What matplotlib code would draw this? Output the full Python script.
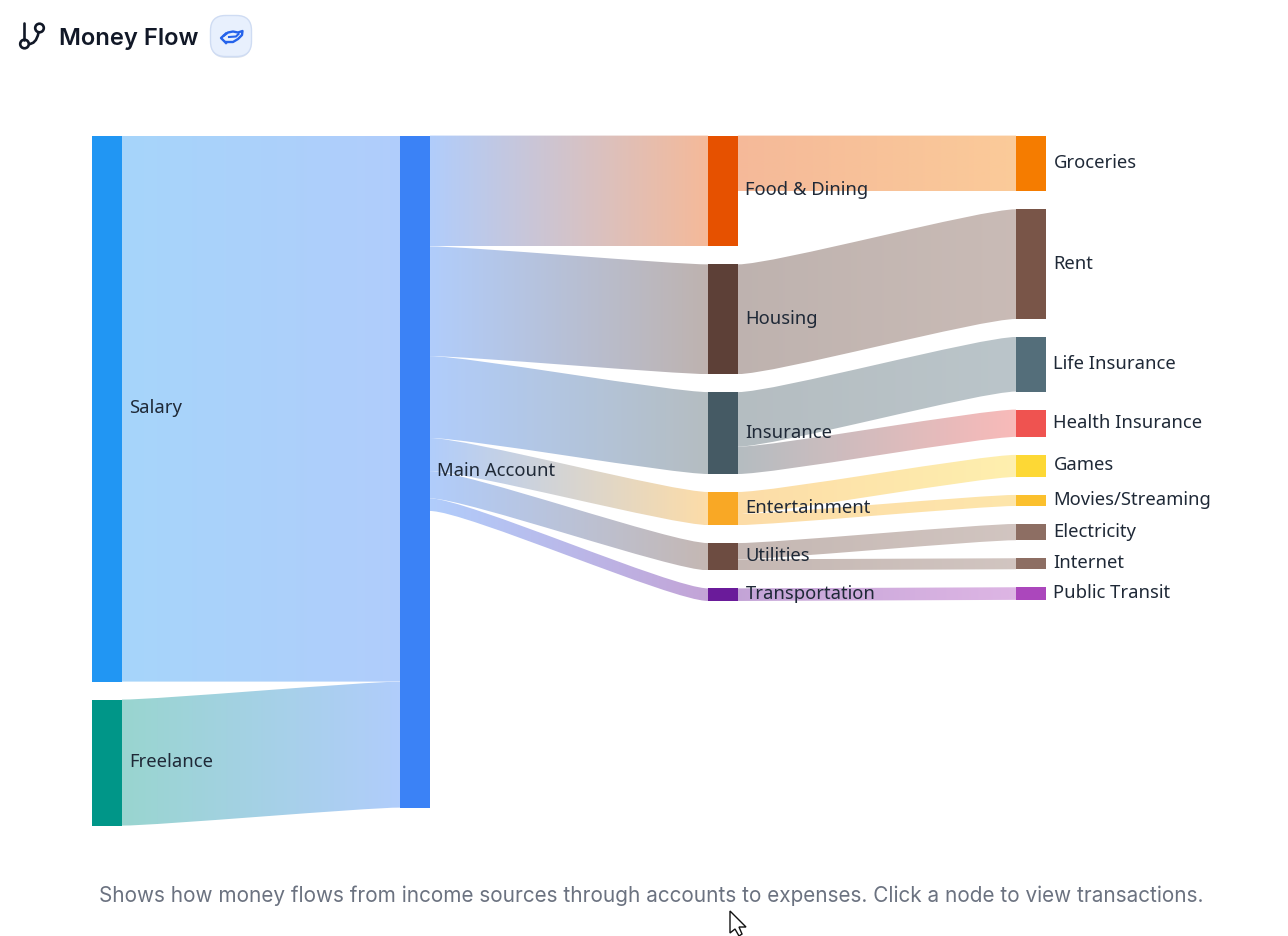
import numpy as np
import matplotlib
matplotlib.use("Agg")
import matplotlib.pyplot as plt
from matplotlib.colors import to_rgb
from matplotlib.patches import Circle, FancyBboxPatch, PathPatch, Polygon, Rectangle
from matplotlib.path import Path

# node columns, top to bottom
col_income = ["Salary", "Freelance"]
col_account = ["Main Account"]
col_category = ["Food & Dining", "Housing", "Insurance", "Entertainment", "Utilities", "Transportation"]
col_expense = ["Groceries", "Rent", "Life Insurance", "Health Insurance", "Games",
               "Movies/Streaming", "Electricity", "Internet", "Public Transit"]

node_colors = {
    "Salary": "#2196F3", "Freelance": "#009688", "Main Account": "#3B82F6",
    "Food & Dining": "#E65100", "Housing": "#5D4037", "Insurance": "#455A64",
    "Entertainment": "#F9A825", "Utilities": "#6D4C41", "Transportation": "#6A1B9A",
    "Groceries": "#F57C00", "Rent": "#795548", "Life Insurance": "#546E7A",
    "Health Insurance": "#EF5350", "Games": "#FDD835", "Movies/Streaming": "#FBC02D",
    "Electricity": "#8D6E63", "Internet": "#8D6E63", "Public Transit": "#AB47BC",
}

link_source = ["Salary", "Freelance",
               "Main Account", "Main Account", "Main Account", "Main Account", "Main Account", "Main Account",
               "Food & Dining", "Housing", "Insurance", "Insurance", "Entertainment", "Entertainment",
               "Utilities", "Utilities", "Transportation"]
link_target = ["Main Account", "Main Account",
               "Food & Dining", "Housing", "Insurance", "Entertainment", "Utilities", "Transportation",
               "Groceries", "Rent", "Life Insurance", "Health Insurance", "Games", "Movies/Streaming",
               "Electricity", "Internet", "Public Transit"]
link_value = [5200, 1200,
              1055, 1045, 780, 315, 260, 120,
              530, 1045, 520, 260, 210, 105,
              155, 105, 120]

# layout in figure pixels
W, H = 1288, 937
NODE_W = 30
PAD = 18
TOP = 136.6
PX_PER_UNIT = 0.105
COL_X = [92, 400, 708, 1016]
LINK_ALPHA = 0.4
CURVE = 0.13


def link_gradient(c0, c1, alpha, n=256):
    t = np.linspace(0, 1, n)[None, :, None]
    a = np.array(to_rgb(c0))[None, None, :]
    b = np.array(to_rgb(c1))[None, None, :]
    rgb = (a * (1 - t) + b * t)
    return alpha * rgb + (1 - alpha)


fig = plt.figure(figsize=(W / 100, H / 100), dpi=100)
ax = fig.add_axes([0, 0, 1, 1])

# node boxes
boxes = {}
for x, col in zip(COL_X, [col_income, col_account, col_category, col_expense]):
    y = TOP
    for name in col:
        val_in = sum(v for t, v in zip(link_target, link_value) if t == name)
        val_out = sum(v for s, v in zip(link_source, link_value) if s == name)
        h = max(val_in, val_out) * PX_PER_UNIT
        boxes[name] = (x, y, h)
        y += h + PAD

# links, stacked in order on each node
out_used = {k: 0.0 for k in boxes}
in_used = {k: 0.0 for k in boxes}
for s, t, v in zip(link_source, link_target, link_value):
    h = v * PX_PER_UNIT
    x0 = boxes[s][0] + NODE_W
    x1 = boxes[t][0]
    y0 = boxes[s][1] + out_used[s]
    y1 = boxes[t][1] + in_used[t]
    out_used[s] += h
    in_used[t] += h
    xa = x0 + (x1 - x0) * CURVE
    xb = x1 - (x1 - x0) * CURVE
    verts = [(x0, y0), (xa, y0), (xb, y1), (x1, y1),
             (x1, y1 + h), (xb, y1 + h), (xa, y0 + h), (x0, y0 + h), (x0, y0)]
    codes = [Path.MOVETO, Path.CURVE4, Path.CURVE4, Path.CURVE4,
             Path.LINETO, Path.CURVE4, Path.CURVE4, Path.CURVE4, Path.CLOSEPOLY]
    clip = PathPatch(Path(verts, codes), transform=ax.transData, fc="none", ec="none")
    ax.add_patch(clip)
    im = ax.imshow(link_gradient(node_colors[s], node_colors[t], LINK_ALPHA), aspect="auto",
                   extent=(x0, x1, max(y0, y1) + h, min(y0, y1)), zorder=1, interpolation="bilinear")
    im.set_clip_path(clip)

for name, (x, y, h) in boxes.items():
    ax.add_patch(Rectangle((x, y), NODE_W, h, fc=node_colors[name], ec="none", zorder=2))
    ax.text(x + NODE_W + 7.5, y + h / 2 - 1.5, name, fontsize=13.25, color="#1f2937", ha="left",
            va="center", family="Noto Sans", zorder=3)

# header
ax.text(59, 38.5, "Money Flow", fontsize=17.1, color="#111827", weight="semibold", family="Inter",
        ha="left", va="center")

# branch icon
ax.plot([24.5, 24.5], [24, 41], color="#111827", lw=1.9, solid_capstyle="round")
ax.add_patch(Circle((24.5, 45), 4.3, fc="white", ec="#111827", lw=1.9))
ax.add_patch(Circle((39.5, 29), 4.3, fc="white", ec="#111827", lw=1.9))
ax.add_patch(PathPatch(Path([(38.5, 33.5), (37, 42), (33, 45), (28.8, 45)],
                            [Path.MOVETO, Path.CURVE4, Path.CURVE4, Path.CURVE4]),
                       fc="none", ec="#111827", lw=1.9))

# hand button
ax.add_patch(FancyBboxPatch((211, 19), 40, 40, boxstyle="round,pad=0,rounding_size=15",
                            fc="#dfe5ee", ec="none", zorder=2))
ax.add_patch(FancyBboxPatch((210.5, 16.5), 41, 41, boxstyle="round,pad=0,rounding_size=15",
                            fc="#e8f0fd", ec="#cfdcf3", lw=1, zorder=3))
hand_color = "#2563eb"
ax.plot([226, 221, 226], [34.5, 39, 44], color=hand_color, lw=1.7, zorder=4)
ax.plot([224, 228, 233, 238, 242.5, 242, 238, 233, 226], [36.5, 33.5, 32.5, 33.5, 32, 36, 40, 43, 43],
        color=hand_color, lw=1.7, zorder=4)
ax.plot([229, 236, 238.5], [38, 37.5, 35], color=hand_color, lw=1.5, zorder=4)

# footer note
ax.text(651.5, 896, "Shows how money flows from income sources through accounts to expenses. "
        "Click a node to view transactions.", fontsize=14.95, color="#6b7280", family="Inter",
        ha="center", va="center")

# mouse pointer from the screen capture
ax.add_patch(Polygon([(730, 912), (730, 934), (735, 930), (739, 937), (742, 935),
                      (739, 928), (746, 928)], closed=True, fc="white", ec="#111111", lw=1, zorder=5))

ax.set_xlim(0, W)
ax.set_ylim(H, 0)
ax.axis("off")
fig.savefig("out.png", dpi=100)
